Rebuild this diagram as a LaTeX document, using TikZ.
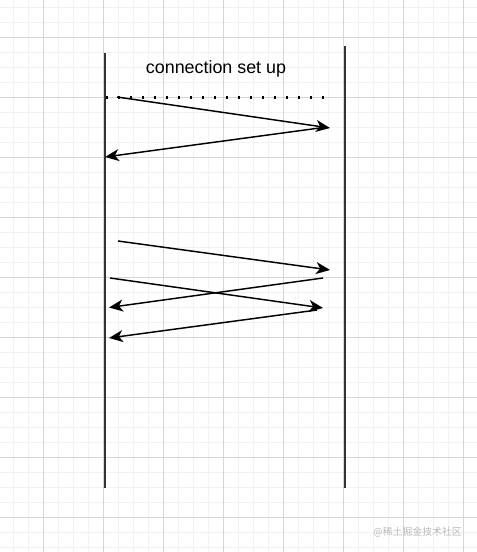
\documentclass[tikz,border=0pt]{standalone}
\usepackage{fontspec}
\setmainfont{Liberation Sans}
\newfontfamily\cjkfont{Noto Sans CJK SC}
\usetikzlibrary{arrows.meta}
\definecolor{gridminor}{HTML}{F2F2F2}
\definecolor{gridmajor}{HTML}{D6D6D6}
\definecolor{lifegray}{HTML}{333333}

\begin{document}
\begin{tikzpicture}[x=0.75pt, y=-0.75pt,
    life/.style={draw=lifegray, line width=1.5pt},
    msg/.style={-{Stealth[length=10.5pt,width=9pt,inset=3pt]}, line width=1.1pt},
    dots/.style={line width=2.6pt, dash pattern=on 2pt off 7pt}
  ]
    \useasboundingbox (0,0) rectangle (477,552);
    \fill[white] (0,0) rectangle (477,552);

    % grid
    \foreach \i in {0,...,31}
      \draw[gridminor, line width=0.75pt] (13.3+15*\i,0) -- (13.3+15*\i,552);
    \foreach \i in {0,...,36}
      \draw[gridminor, line width=0.75pt] (0,7.3+15*\i) -- (477,7.3+15*\i);
    \foreach \j in {0,...,7}
      \draw[gridmajor, line width=0.75pt] (43.3+60*\j,0) -- (43.3+60*\j,552);
    \foreach \j in {0,...,8}
      \draw[gridmajor, line width=0.75pt] (0,37.3+60*\j) -- (477,37.3+60*\j);

    % lifelines
    \coordinate (lefttop) at (105,53);
    \coordinate (leftbot) at (105,488);
    \coordinate (righttop) at (345,46);
    \coordinate (rightbot) at (345,488);
    \draw[life] (lefttop) -- (leftbot);
    \draw[life] (righttop) -- (rightbot);

    \node[anchor=base, font=\fontsize{13.4}{16}\selectfont] (setup) at (216,73.5) {connection set up};

    % connection set up
    \coordinate (dotstart) at (105.5,97.5);
    \coordinate (dotend) at (325,97.5);
    \draw[dots] (dotstart) -- (dotend);

    \coordinate (syn) at (117,97);
    \coordinate (synack) at (330,128);
    \coordinate (ackout) at (327,127);
    \coordinate (ack) at (105,157);
    \draw[msg] (syn) -- (synack);
    \draw[msg] (ackout) -- (ack);

    % data transfer
    \coordinate (d1from) at (118,241);
    \coordinate (d1to) at (330,270);
    \coordinate (d2from) at (323,278);
    \coordinate (d2to) at (109,307.5);
    \coordinate (d3from) at (110,278);
    \coordinate (d3to) at (323,308);
    \coordinate (d4from) at (317,310);
    \coordinate (d4to) at (109,338);
    \draw[msg] (d1from) -- (d1to);
    \draw[msg] (d2from) -- (d2to);
    \draw[msg] (d3from) -- (d3to);
    \draw[msg] (d4from) -- (d4to);

    \node[anchor=base east, font=\cjkfont\fontsize{7.4}{9}\selectfont, text=gray!55, inner sep=0pt] (mark) at (462,535) {@稀土掘金技术社区};
  \end{tikzpicture}
\end{document}
